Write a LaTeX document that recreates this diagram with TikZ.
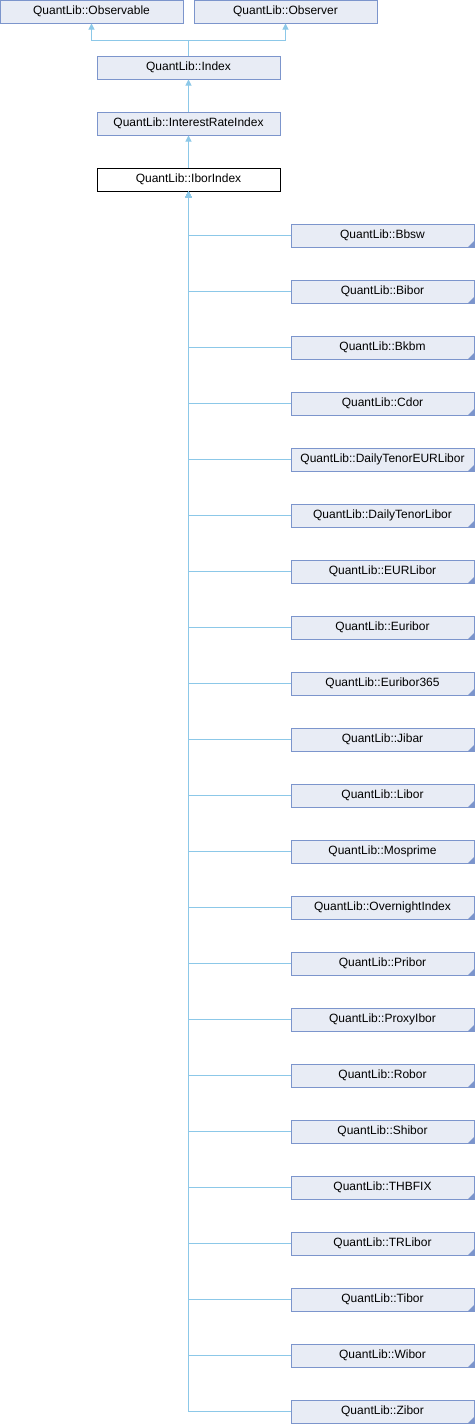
\documentclass[tikz,border=0pt]{standalone}
\usepackage{fontspec}
\setmainfont{Liberation Sans}
\usetikzlibrary{arrows.meta}
\definecolor{boxfill}{HTML}{E8ECF5}
\definecolor{boxline}{HTML}{7C95CC}
\definecolor{edgecol}{HTML}{8CC8E8}
\tikzset{
  cls/.style={draw=boxline, fill=boxfill, line width=1pt, minimum width=183pt, minimum height=23pt, inner sep=0pt, font=\fontsize{12}{14}\selectfont},
  cur/.style={cls, draw=black, fill=white},
  more/.style={cls, path picture={\fill[boxline] (path picture bounding box.south east) -- ++(-6pt,0) -- ++(6pt,6pt) -- cycle;}},
  edge/.style={draw=edgecol, line width=1pt, -{Triangle[width=6pt,length=6pt]}},
  plain/.style={draw=edgecol, line width=1pt}
}
\begin{document}
\begin{tikzpicture}[x=1pt,y=-1pt]
\useasboundingbox (0,0) rectangle (475,1424);
\node[cls] (obs) at (91.5,11.5) {QuantLib::Observable};
\node[cls] (obsr) at (285.5,11.5) {QuantLib::Observer};
\node[cls] (idx) at (188.5,67.5) {QuantLib::Index};
\node[cls] (iri) at (188.5,123.5) {QuantLib::InterestRateIndex};
\node[cur] (ibor) at (188.5,179.5) {QuantLib::IborIndex};
\coordinate (j) at (188.5,40);
\draw[plain] (idx.north) -- (j);
\draw[edge] (j) -| (obs.south);
\draw[edge] (j) -| (obsr.south);
\draw[edge] (iri.north) -- (idx.south);
\draw[edge] (ibor.north) -- (iri.south);
\foreach \n [count=\i from 0] in {Bbsw,Bibor,Bkbm,Cdor,DailyTenorEURLibor,DailyTenorLibor,EURLibor,Euribor,Euribor365,Jibar,Libor,Mosprime,OvernightIndex,Pribor,ProxyIbor,Robor,Shibor,THBFIX,TRLibor,Tibor,Wibor,Zibor}{
  \node[more] (c\i) at (382.5,235.5+56*\i) {QuantLib::\n};
  \draw[edge] (c\i.west) -| (ibor.south);
}
\end{tikzpicture}
\end{document}
